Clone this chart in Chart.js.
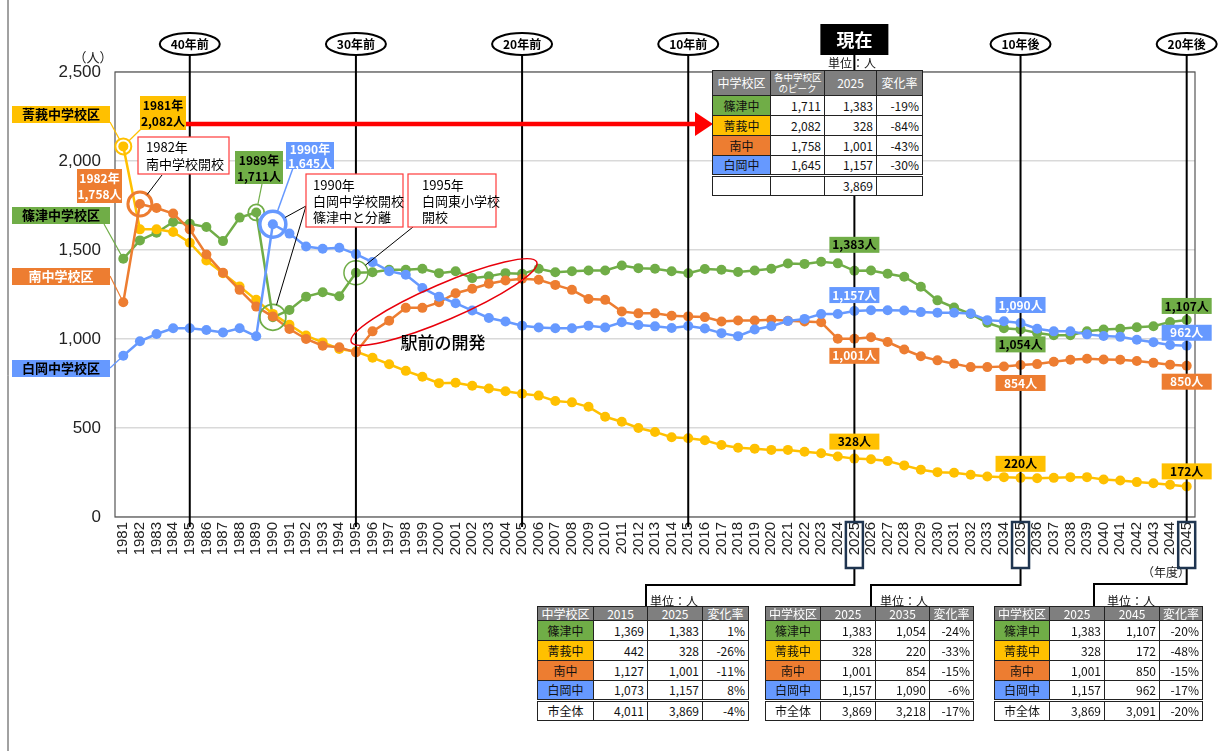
<!DOCTYPE html>
<html>
<head>
<meta charset="utf-8">
<script src="https://cdn.jsdelivr.net/npm/chart.js@4"></script>
<style>
  body { margin: 0; background: #fff; width: 1227px; height: 751px; overflow: hidden; position: relative; }
  #myChart { position: absolute; left: 0; top: 0; }
  .tbl { position: absolute; border-collapse: collapse; table-layout: fixed; font-family: "Noto Sans CJK JP", sans-serif; font-size: 12px; color: #111; background: #fff; }
  .tbl td { border: 1.5px solid #222; padding: 0 3px; text-align: right; line-height: 1; white-space: nowrap; overflow: hidden; background: #fff; }
  .tbl td.hd { background: #7f7f7f; color: #fff; text-align: center; }
  .tbl td.nm { text-align: center; }
  .tbl tr.tot td { border-top: 3px double #222; }
  .unit { position: absolute; font-family: "Noto Sans CJK JP", sans-serif; font-size: 12px; color: #111; }
</style>
</head>
<body>
<canvas id="myChart" width="1227" height="751"></canvas>
<div id="tables"></div>
<script>
// 年度
const years = ['1981','1982','1983','1984','1985','1986','1987','1988','1989','1990',
  '1991','1992','1993','1994','1995','1996','1997','1998','1999','2000',
  '2001','2002','2003','2004','2005','2006','2007','2008','2009','2010',
  '2011','2012','2013','2014','2015','2016','2017','2018','2019','2020',
  '2021','2022','2023','2024','2025','2026','2027','2028','2029','2030',
  '2031','2032','2033','2034','2035','2036','2037','2038','2039','2040',
  '2041','2042','2043','2044','2045'];

// 篠津中学校区
const shinotsu = [1451,1554,1597,1657,1648,1629,1550,1682,1711,1122,
  1163,1238,1263,1240,1372,1375,1389,1389,1395,1370,
  1381,1342,1353,1370,1366,1395,1375,1381,1385,1385,
  1413,1398,1395,1381,1369,1393,1389,1376,1385,1395,
  1424,1422,1434,1425,1383,1385,1367,1350,1294,1217,
  1177,1141,1091,1060,1054,1034,1021,1021,1043,1053,
  1058,1066,1072,1096,1107];

// 菁莪中学校区
const seiga = [2082,1616,1616,1601,1541,1441,1370,1295,1220,1141,
  1080,1019,981,944,930,895,858,821,788,752,
  754,737,722,706,693,682,652,644,619,563,
  535,500,478,448,442,431,404,389,384,377,
  377,367,358,340,328,324,314,290,266,252,
  249,237,228,224,220,218,220,224,224,211,
  205,196,190,181,172];

// 南中学校区
const minami = [1206,1758,1736,1705,1616,1475,1372,1276,1182,1126,
  1056,1000,962,953,925,1043,1103,1175,1175,1206,
  1257,1282,1310,1329,1338,1333,1304,1276,1225,1220,
  1154,1144,1144,1131,1127,1123,1098,1104,1104,1108,
  1102,1098,1094,1001,1001,1010,983,941,903,880,
  861,842,842,846,854,859,872,883,889,885,
  883,876,866,856,850];

// 白岡中学校区
const shiraoka = [906,987,1028,1060,1060,1051,1037,1060,1015,1645,
  1592,1520,1507,1513,1477,1432,1381,1361,1287,1238,
  1201,1160,1118,1098,1075,1065,1060,1060,1075,1065,
  1094,1079,1071,1062,1073,1059,1033,1016,1053,1072,
  1101,1113,1140,1140,1157,1162,1162,1160,1151,1147,
  1147,1143,1106,1100,1090,1058,1043,1043,1026,1017,
  1012,996,982,966,962];

const yTicks = [0, 500, 1000, 1500, 2000, 2500];

const markYears = ['1985','1995','2005','2015','2025','2035','2045'];
const markTexts = ['40年前','30年前','20年前','10年前','現在','10年後','20年後'];

const GREEN = '#70ad47', YELLOW = '#ffc000', ORANGE = '#ed7d31', BLUE = '#6699ff';
const JP = '"Noto Sans CJK JP", sans-serif';

const schools = [
  { short: '篠津中', name: '篠津中学校区', data: shinotsu, color: GREEN,  fg: '#000' },
  { short: '菁莪中', name: '菁莪中学校区', data: seiga,    color: YELLOW, fg: '#000' },
  { short: '南中',   name: '南中学校区',   data: minami,   color: ORANGE, fg: '#fff' },
  { short: '白岡中', name: '白岡中学校区', data: shiraoka, color: BLUE,   fg: '#000' }
];

const fmt = v => v.toLocaleString('en-US');
const rate = (a, b) => Math.round((b / a - 1) * 100) + '%';
const at = (arr, yr) => arr[years.indexOf(yr)];

function box(ctx, x, y, w, h, bg, stroke) {
  ctx.fillStyle = bg;
  ctx.fillRect(x, y, w, h);
  if (stroke) {
    ctx.strokeStyle = stroke;
    ctx.lineWidth = 1.2;
    ctx.strokeRect(x, y, w, h);
  }
}

function lines(ctx, arr, x, y, lh, font, color, align) {
  ctx.font = font;
  ctx.fillStyle = color;
  ctx.textAlign = align || 'center';
  ctx.textBaseline = 'middle';
  arr.forEach((t, i) => ctx.fillText(t, x, y + i * lh));
}

function seg(ctx, pts, color, w) {
  ctx.beginPath();
  ctx.moveTo(pts[0][0], pts[0][1]);
  for (let i = 1; i < pts.length; i++) ctx.lineTo(pts[i][0], pts[i][1]);
  ctx.strokeStyle = color;
  ctx.lineWidth = w;
  ctx.stroke();
}

function toRing(fx, fy, cx, cy, r) {
  const d = Math.hypot(fx - cx, fy - cy);
  return [cx + (fx - cx) / d * r, cy + (fy - cy) / d * r];
}

const overlay = {
  id: 'overlay',
  afterDatasetsDraw(chart) {
    const { ctx, scales: { x, y }, chartArea: ca } = chart;
    const px = yr => x.getPixelForValue(years.indexOf(yr));
    const pt = (arr, yr) => [px(yr), y.getPixelForValue(at(arr, yr))];
    ctx.save();

    // plot frame
    ctx.strokeStyle = '#555';
    ctx.lineWidth = 1.2;
    ctx.strokeRect(ca.left, ca.top, ca.right - ca.left, ca.bottom - ca.top);

    // rings
    const rings = [
      [seiga, '1981', YELLOW, 8, 2],
      [minami, '1982', ORANGE, 12, 3],
      [shinotsu, '1989', GREEN, 8, 1.8],
      [shinotsu, '1990', GREEN, 13, 1.8],
      [shiraoka, '1990', BLUE, 13, 3.5],
      [shinotsu, '1995', GREEN, 12, 1.5]
    ];
    rings.forEach(([arr, yr, c, r, w]) => {
      const [cx, cy] = pt(arr, yr);
      ctx.beginPath();
      ctx.arc(cx, cy, r, 0, Math.PI * 2);
      ctx.strokeStyle = c;
      ctx.lineWidth = w;
      ctx.stroke();
    });

    // vertical marker lines
    markYears.forEach((yr, i) => {
      const lx = px(yr);
      seg(ctx, [[lx, 55], [lx, i < 4 ? 527 : 522]], '#000', 2);
    });
    // connectors to the bottom tables
    seg(ctx, [[px('2025'), 568], [px('2025'), 585], [646, 585], [646, 608]], '#000', 2);
    seg(ctx, [[px('2035'), 568], [px('2035'), 585], [871, 585], [871, 606]], '#000', 2);
    seg(ctx, [[px('2045'), 568], [px('2045'), 584], [1094, 584], [1094, 606]], '#000', 2);

    // top markers
    markYears.forEach((yr, i) => {
      const lx = px(yr);
      if (markTexts[i] === '現在') {
        box(ctx, lx - 34, 24, 68, 31, '#000');
        lines(ctx, [markTexts[i]], lx, 40, 0, 'bold 18px ' + JP, '#fff');
      } else {
        ctx.beginPath();
        ctx.ellipse(lx, 44, 30, 11, 0, 0, Math.PI * 2);
        ctx.fillStyle = '#fff';
        ctx.fill();
        ctx.strokeStyle = '#000';
        ctx.lineWidth = 2;
        ctx.stroke();
        lines(ctx, [markTexts[i]], lx, 44, 0, 'bold 12px ' + JP, '#000');
      }
    });

    // 駅前の開発
    ctx.beginPath();
    ctx.ellipse(444, 302, 101, 18, -23.3 * Math.PI / 180, 0, Math.PI * 2);
    ctx.strokeStyle = '#e8000b';
    ctx.lineWidth = 1.5;
    ctx.stroke();
    lines(ctx, ['駅前の開発'], 443, 343, 0, '500 17px ' + JP, '#000');

    // red arrow
    seg(ctx, [[186, 124], [697, 124]], '#ff0000', 4.5);
    ctx.beginPath();
    ctx.moveTo(695, 112); ctx.lineTo(713, 124); ctx.lineTo(695, 136); ctx.closePath();
    ctx.fillStyle = '#ff0000';
    ctx.fill();

    // peak labels
    const bold12 = 'bold 12px ' + JP;
    const pY = pt(seiga, '1981');
    seg(ctx, [[141, 129], toRing(141, 129, pY[0], pY[1], 8)], YELLOW, 1.2);
    box(ctx, 140, 96, 46, 34, YELLOW);
    lines(ctx, [years[0] + '年', fmt(seiga[0]) + '人'], 163, 105, 16, bold12, '#000');

    const pO = pt(minami, '1982');
    box(ctx, 77, 169, 45, 34, ORANGE);
    lines(ctx, ['1982年', fmt(at(minami, '1982')) + '人'], 99.5, 178, 16, bold12, '#fff');
    seg(ctx, [[162, 175], toRing(162, 175, pO[0], pO[1], 12)], '#000', 1);
    box(ctx, 138, 137, 91, 37, '#fff', '#ff3b3b');
    lines(ctx, ['1982年', '南中学校開校'], 146, 147, 17, '13px ' + JP, '#000', 'left');

    const pG = pt(shinotsu, '1989');
    seg(ctx, [[262, 184], toRing(262, 184, pG[0], pG[1], 8)], GREEN, 1.2);
    box(ctx, 235, 151, 48, 33, GREEN);
    lines(ctx, ['1989年', fmt(at(shinotsu, '1989')) + '人'], 259, 160, 16, bold12, '#000');

    const pB = pt(shiraoka, '1990');
    seg(ctx, [[293, 168], toRing(293, 168, pB[0], pB[1], 14)], BLUE, 1.5);
    box(ctx, 286, 142, 48, 27, BLUE);
    lines(ctx, ['1990年', fmt(at(shiraoka, '1990')) + '人'], 310, 149, 14, bold12, '#fff');

    const pG2 = pt(shinotsu, '1990');
    seg(ctx, [[306, 206], toRing(306, 206, pB[0], pB[1], 14)], '#000', 1);
    seg(ctx, [[306, 206], toRing(306, 206, pG2[0], pG2[1], 13)], '#000', 1);
    box(ctx, 306, 174, 97, 53, '#fff', '#ff3b3b');
    lines(ctx, ['1990年', '白岡中学校開校', '篠津中と分離'], 313, 185, 16, '13px ' + JP, '#000', 'left');

    const pG3 = pt(shinotsu, '1995');
    seg(ctx, [[413, 227], toRing(413, 227, pG3[0], pG3[1], 12)], '#000', 1);
    box(ctx, 408, 174, 88, 53, '#fff', '#ff3b3b');
    lines(ctx, ['1995年', '白岡東小学校', '開校'], 422, 185, 16, '13px ' + JP, '#000', 'left');

    // value labels at 2025 / 2035 / 2045
    const valueLabels = [
      [0, '2025', -26], [3, '2025', -16], [2, '2025', 17], [1, '2025', -17],
      [3, '2035', -18], [0, '2035', 15], [2, '2035', 18], [1, '2035', -14],
      [0, '2045', -14], [3, '2045', -13], [2, '2045', 16], [1, '2045', -15]
    ];
    valueLabels.forEach(([si, yr, dy]) => {
      const s = schools[si];
      const [vx, vy] = pt(s.data, yr);
      const fg = si === 3 ? '#fff' : s.fg;
      box(ctx, vx - 25, vy + dy - 8, 50, 16, s.color);
      lines(ctx, [fmt(at(s.data, yr)) + '人'], vx, vy + dy, 0, bold12, fg);
    });

    // series name boxes on the left
    const nameBoxes = [[1, 106, [110, 122]], [0, 207, [104, 224]], [2, 268, [110, 276]], [3, 360, [110, 368]]];
    nameBoxes.forEach(([si, by, from]) => {
      const s = schools[si];
      const p = pt(s.data, years[0]);
      const r = si === 1 ? 8 : 4;
      seg(ctx, [from, toRing(from[0], from[1], p[0], p[1], r)], s.color, 1.2);
      box(ctx, 12, by, 98, 17, s.color);
      lines(ctx, [s.name], 61, by + 8.5, 0, 'bold 13px ' + JP, s.fg);
    });

    // axis captions
    lines(ctx, ['（人）'], 93, 57, 0, '13px ' + JP, '#222');
    lines(ctx, ['（年度）'], 1166, 572, 0, '12px ' + JP, '#222');

    // outer left rule
    seg(ctx, [[8, 0], [8, 751]], '#444', 1);
    ctx.restore();
  },
  afterDraw(chart) {
    const { ctx, scales: { x } } = chart;
    ctx.save();
    ['2025', '2035', '2045'].forEach(yr => {
      const lx = x.getPixelForValue(years.indexOf(yr));
      ctx.strokeStyle = '#1f3550';
      ctx.lineWidth = 2.5;
      ctx.strokeRect(lx - 8.5, 522, 17, 46);
    });
    ctx.restore();
  }
};

new Chart(document.getElementById('myChart'), {
  type: 'line',
  data: {
    labels: years,
    datasets: [3, 2, 1, 0].map((si, k) => ({
      label: schools[si].name,
      data: schools[si].data,
      borderColor: schools[si].color,
      backgroundColor: schools[si].color,
      order: k
    }))
  },
  options: {
    responsive: false,
    animation: false,
    devicePixelRatio: 1,
    layout: { padding: { top: 72, right: 32, bottom: 174, left: 0 } },
    plugins: { legend: { display: false }, tooltip: { enabled: false } },
    elements: {
      line: { borderWidth: 2.5, tension: 0 },
      point: { radius: 5, borderWidth: 0, hoverRadius: 5 }
    },
    scales: {
      x: {
        offset: true,
        grid: { display: false, drawTicks: false },
        border: { display: false },
        ticks: {
          autoSkip: false, minRotation: 90, maxRotation: 90, padding: 5,
          color: '#222', font: { size: 15, family: '"Liberation Sans", Arial, sans-serif' }
        },
        afterFit(s) { s.height = 60; }
      },
      y: {
        min: 0, max: 2500,
        afterBuildTicks(s) { s.ticks = yTicks.map(v => ({ value: v })); },
        grid: { color: '#d9d9d9', lineWidth: 1.5, drawTicks: false },
        border: { display: false },
        ticks: {
          padding: 14, color: '#222',
          font: { size: 17, family: '"Liberation Sans", Arial, sans-serif' },
          callback: v => fmt(v)
        },
        afterFit(s) { s.width = 115; }
      }
    }
  },
  plugins: [overlay]
});

// tables
function makeTable(left, top, widths, head, headH, rows, total) {
  let h = `<table class="tbl" style="left:${left}px;top:${top}px;width:${widths.reduce((a, b) => a + b, 0)}px">`;
  h += '<colgroup>' + widths.map(w => `<col style="width:${w}px">`).join('') + '</colgroup>';
  h += `<tr style="height:${headH}px">` + head.map(t => `<td class="hd">${t}</td>`).join('') + '</tr>';
  rows.forEach(r => {
    h += '<tr style="height:20px">' + r.map((c, i) => i === 0
      ? `<td class="nm" style="background:${c.bg}">${c.t}</td>` : `<td>${c}</td>`).join('') + '</tr>';
  });
  if (total) {
    h += '<tr class="tot" style="height:20px">' + total.map((c, i) => i === 0
      ? `<td class="nm">${c}</td>` : `<td>${c}</td>`).join('') + '</tr>';
  }
  return h + '</table>';
}

const sum = yr => schools.reduce((a, s) => a + at(s.data, yr), 0);
const nameCell = s => ({ t: s.short, bg: s.color });

let html = '';
html += makeTable(712, 70, [58, 54, 52, 46],
  ['中学校区', '<span style="font-size:9.5px;line-height:1.15;display:block">各中学校区<br>のピーク</span>', '2025', '変化率'], 25,
  schools.map(s => {
    const peak = Math.max(...s.data);
    return [nameCell(s), fmt(peak), fmt(at(s.data, '2025')), rate(peak, at(s.data, '2025'))];
  }),
  ['', '', fmt(sum('2025')), '']);
html += '<div class="unit" style="left:828px;top:54px">単位：人</div>';

[['2015', '2025', 537, [56, 54, 55, 46], 650], ['2025', '2035', 765, [55, 55, 54, 44], 880], ['2025', '2045', 994, [55, 55, 55, 43], 1107]]
  .forEach(([a, b, left, widths, ux]) => {
    html += makeTable(left, 606, widths, ['中学校区', a, b, '変化率'], 14,
      schools.map(s => [nameCell(s), fmt(at(s.data, a)), fmt(at(s.data, b)), rate(at(s.data, a), at(s.data, b))]),
      ['市全体', fmt(sum(a)), fmt(sum(b)), rate(sum(a), sum(b))]);
    html += `<div class="unit" style="left:${ux}px;top:592px">単位：人</div>`;
  });
document.getElementById('tables').innerHTML = html;
</script>
</body>
</html>
